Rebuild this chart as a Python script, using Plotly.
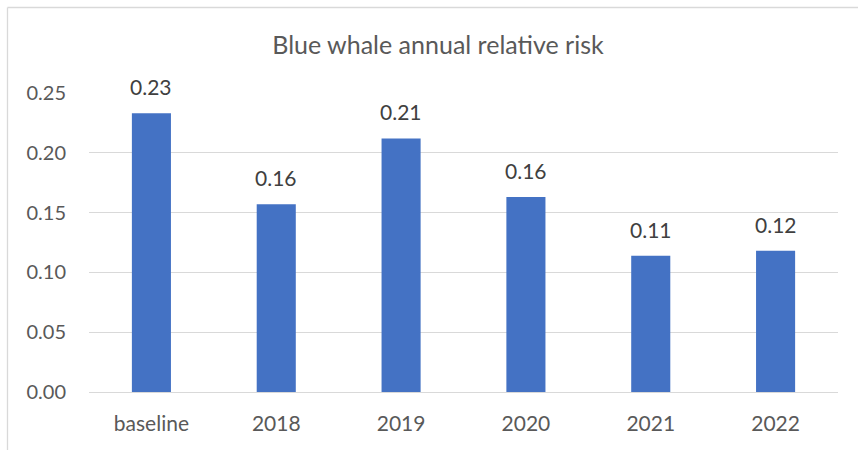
import plotly.graph_objects as go

categories = ["baseline", "2018", "2019", "2020", "2021", "2022"]
risk_values = [0.233, 0.157, 0.212, 0.163, 0.114, 0.118]
label_texts = ["0.23", "0.16", "0.21", "0.16", "0.11", "0.12"]
y_ticks = [0.00, 0.05, 0.10, 0.15, 0.20, 0.25]
y_tick_labels = ["0.00", "0.05", "0.10", "0.15", "0.20", "0.25"]

FONT = "Lato"
GRID = "#d9d9d9"

fig = go.Figure()
fig.add_trace(go.Bar(
    x=categories, y=risk_values,
    marker=dict(color="#4472C4", line=dict(width=0)),
    hoverinfo="skip",
))

for i, (v, t) in enumerate(zip(risk_values, label_texts)):
    fig.add_annotation(
        x=i, y=v, text=t, showarrow=False, xref="x", yref="y",
        yanchor="bottom", yshift=12,
        font=dict(family=FONT, size=21, color="#404040"),
    )

# chart border (cropped on right and bottom)
W, H = 858, 450
L, R, T, B = 89, 20, 93, 58
pw, ph = W - L - R, H - T - B
def px(xp):
    return (xp - L) / pw
def py(yp):
    return (H - B - yp) / ph

fig.add_shape(type="line", xref="paper", yref="paper",
              x0=px(7.5), x1=px(900), y0=py(7.5), y1=py(7.5),
              line=dict(color=GRID, width=1.3))
fig.add_shape(type="line", xref="paper", yref="paper",
              x0=px(7.5), x1=px(7.5), y0=py(7.5), y1=py(500),
              line=dict(color=GRID, width=1.3))

fig.update_layout(
    width=W, height=H,
    margin=dict(l=L, r=R, t=T, b=B, pad=0),
    paper_bgcolor="white", plot_bgcolor="white",
    showlegend=False,
    bargap=0.687,
    title=dict(
        text="Blue whale annual relative risk",
        x=438 / W, xanchor="center", xref="container",
        y=1 - 45 / H, yanchor="middle", yref="container",
        font=dict(family=FONT, size=25, color="#595959"),
    ),
    font=dict(family=FONT, color="#595959"),
    xaxis=dict(
        type="category", range=[-0.5, len(categories) - 0.5],
        showgrid=False, ticks="", showline=False,
        zeroline=False, ticklabelstandoff=17,
        tickfont=dict(family=FONT, size=21, color="#595959"),
    ),
    yaxis=dict(
        range=[0, 0.25], tickvals=y_ticks, ticktext=y_tick_labels,
        showgrid=True, gridcolor=GRID, gridwidth=1.3,
        zeroline=True, zerolinecolor=GRID, zerolinewidth=1.3,
        ticks="", showline=False, ticklabelstandoff=22,
        tickfont=dict(family=FONT, size=20, color="#595959"),
    ),
)

fig.write_html("out.html")
